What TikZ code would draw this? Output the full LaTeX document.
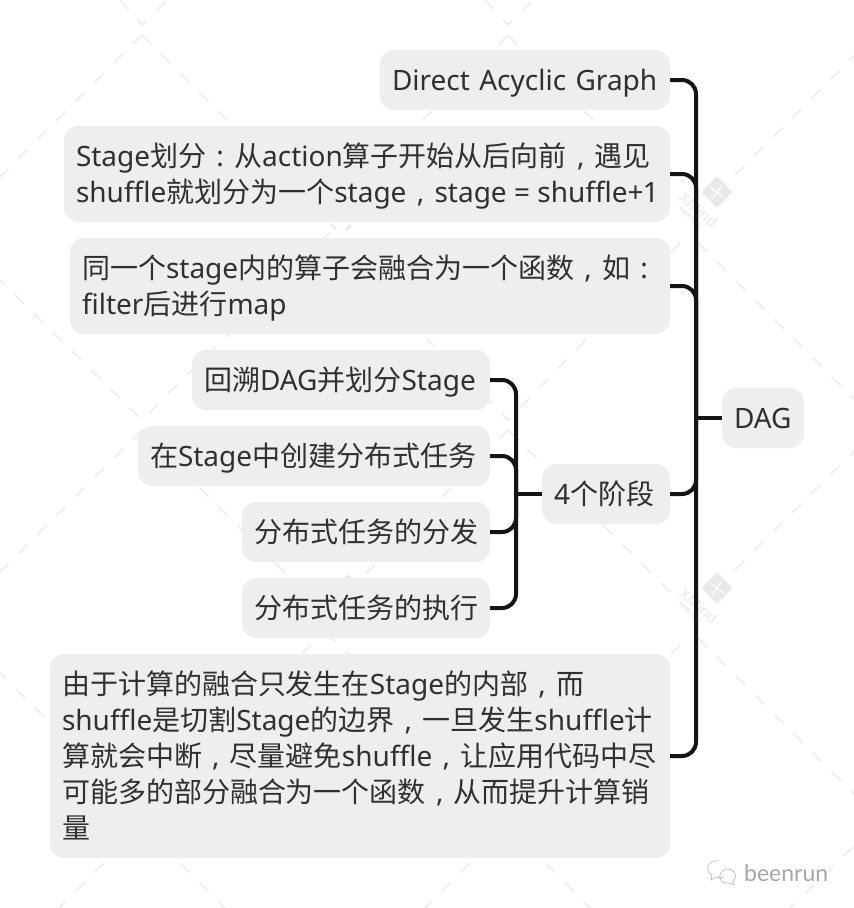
\documentclass[tikz,border=0pt]{standalone}
\usepackage{fontspec}
\setmainfont[Ligatures=NoCommon]{Noto Sans}
\newfontfamily\sigfont{Lato}
\newfontfamily\cjkfont{Noto Sans CJK SC}
\newcommand{\zh}[1]{{\cjkfont #1}}
\newcommand{\zc}{\makebox[28pt][c]{,}}
\newcommand{\zd}{\makebox[28pt][c]{:}}
\definecolor{boxfill}{HTML}{EEEEEE}
\definecolor{inkc}{HTML}{303030}
\definecolor{linec}{HTML}{141414}
\definecolor{wmark}{HTML}{E9E9E9}
\tikzset{
  topic/.style={fill=boxfill,rounded corners=14pt,inner xsep=12pt,inner ysep=0pt,align=left,
    text=inkc,font=\fontsize{28pt}{36pt}\selectfont,anchor=center,
    execute at begin node={\rule{0pt}{28pt}},execute at end node={\rule[-8pt]{0pt}{8pt}}},
  conn/.style={draw=linec,line width=4pt,rounded corners=14pt},
  wm/.style={draw=wmark,line width=1.2pt,dash pattern=on 13pt off 14pt},
  wmt/.style={text=wmark,inner sep=0pt,rotate=-42},
  wmd/.style={fill=wmark,rounded corners=2pt}
}
\begin{document}
\begin{tikzpicture}[x=1pt,y=-1pt]
\useasboundingbox (0,0) rectangle (854,908);
% watermark lattice
\draw[wm] (120,0) -- (142,25) -- (167,0);
\draw[wm] (142,35) -- (0,177);
\draw[wm] (142,35) -- (320,213);
\draw[wm] (485,0) -- (508,25) -- (533,0);
\draw[wm] (508,35) -- (345,198);
\draw[wm] (508,35) -- (690,217);
\draw[wm] (735,175) -- (854,56);
\draw[wm] (698,243) -- (854,399);
\draw[wm] (680,243) -- (508,420) -- (345,257);
\draw[wm] (330,232) -- (142,420) -- (0,280);
\draw[wm] (142,430) -- (0,572);
\draw[wm] (142,430) -- (330,618);
\draw[wm] (508,430) -- (345,595);
\draw[wm] (508,430) -- (690,612);
\draw[wm] (735,570) -- (854,451);
\draw[wm] (698,638) -- (854,794);
\draw[wm] (680,645) -- (508,815) -- (332,638);
\draw[wm] (311,645) -- (142,815) -- (0,673);
\draw[wm] (142,825) -- (59,908);
\draw[wm] (142,825) -- (225,908);
\draw[wm] (508,825) -- (425,908);
\draw[wm] (508,825) -- (590,908);
\draw[wm] (853,847) -- (790,908);
% XMind marks
\foreach \lx/\ly in {717/192,717/588}{
  \begin{scope}[shift={(\lx,\ly)}]
    \fill[wmd] (0,-16) -- (15.5,0) -- (0,16) -- (-15.5,0) -- cycle;
    \draw[white,line width=1.2pt] (-7,-5) .. controls (-2,-1) and (2,1) .. (7,5);
    \draw[white,line width=1.2pt] (5,-7) .. controls (1,-2) and (-1,2) .. (-5,7);
    \node[wmt,font=\fontsize{15pt}{15pt}\selectfont] (xm\lx\ly) at (-18,18) {XMind};
    \node[wmt,font=\cjkfont\fontsize{6.5pt}{7pt}\selectfont] (xt\lx\ly) at (-26,26) {试用模式};
  \end{scope}
}
% the parts of the other two marks that show between the topics
\fill[wmd] (348,574) -- (358,584) -- (338,584) -- cycle;
\draw[wmark,line width=2pt] (330,224) -- (336,229);
\draw[wmark,line width=3pt] (346,230) -- (351,225);
% topics
\node[topic,minimum width=290pt,text width=266pt,minimum height=60pt] (direct) at (525,80) {Direct Acyclic Graph};
\node[topic,minimum width=606pt,text width=582pt,minimum height=96pt] (stage) at (367,174)
  {Stage\zh{划分}\zd\zh{从}action\zh{算子开始从后向前}\zc\zh{遇见}\\\makebox[0pt][l]{shuffle\zh{就划分为一个}stage\zc stage\hspace{-2pt} =\hspace{-2pt} shuffle+\kern-1pt 1}};
\node[topic,minimum width=600pt,text width=576pt,minimum height=96pt] (same) at (370,286)
  {\zh{同一个}stage\zh{内的算子会融合为一个函数}\zc\zh{如}\zd\\filter\zh{后进行}map};
\node[topic,minimum width=298pt,text width=274pt,minimum height=60pt] (s1) at (341,380) {\zh{回溯}DAG\zh{并划分}Stage};
\node[topic,minimum width=352pt,text width=328pt,minimum height=60pt] (s2) at (314,456) {\zh{在}Stage\zh{中创建分布式任务}};
\node[topic,minimum width=248pt,text width=224pt,minimum height=60pt] (s3) at (366,532) {\zh{分布式任务的分发}};
\node[topic,minimum width=248pt,text width=224pt,minimum height=60pt] (s4) at (366,608) {\zh{分布式任务的执行}};
\node[topic,minimum width=128pt,text width=104pt,minimum height=60pt] (four) at (606,494) {4\zh{个阶段}};
\node[topic,minimum width=82pt,text width=58pt,minimum height=60pt] (dag) at (763,418) {DAG};
\node[topic,minimum width=620pt,text width=596pt,minimum height=204pt] (long) at (360,756)
  {\zh{由于计算的融合只发生在}Stage\zh{的内部}\zc\zh{而}\\
   shuffle\zh{是切割}Stage\zh{的边界}\zc\zh{一旦发生}shuffle\zh{计}\\
   \zh{算就会中断}\zc\zh{尽量避免}shuffle\zc\zh{让应用代码中尽}\\
   \zh{可能多的部分融合为一个函数}\zc\zh{从而提升计算销}\\
   \zh{量}};
% connectors
\coordinate (busA) at (696,418);
\coordinate (busB) at (516,494);
\draw[conn] (direct.east) -| (busA);
\draw[conn] (stage.east) -| (busA);
\draw[conn] (same.east) -| (busA);
\draw[conn] (four.east) -| (busA);
\draw[conn] (long.east) -| (busA);
\draw[conn] (dag.west) -- (busA);
\draw[conn] (s1.east) -| (busB);
\draw[conn] (s2.east) -| (busB);
\draw[conn] (s3.east) -| (busB);
\draw[conn] (s4.east) -| (busB);
\draw[conn] (four.west) -- (busB);
% signature
\node[inner sep=0pt,anchor=west,text=gray!70,font=\sigfont\fontsize{23pt}{23pt}\selectfont,name=sig] at (744,873) {beenrun};
\draw[gray!55,line width=0.7pt] (718,861) .. controls (708,859) and (704,870) .. (712,875) -- (711,880) -- (716,877) .. controls (720,878) and (722,878) .. (724,877);
\draw[gray!55,line width=0.7pt] (726,869) .. controls (734,868) and (739,875) .. (733,881) -- (734,885) -- (729,883) .. controls (720,885) and (715,873) .. (726,869);
\end{tikzpicture}
\end{document}
